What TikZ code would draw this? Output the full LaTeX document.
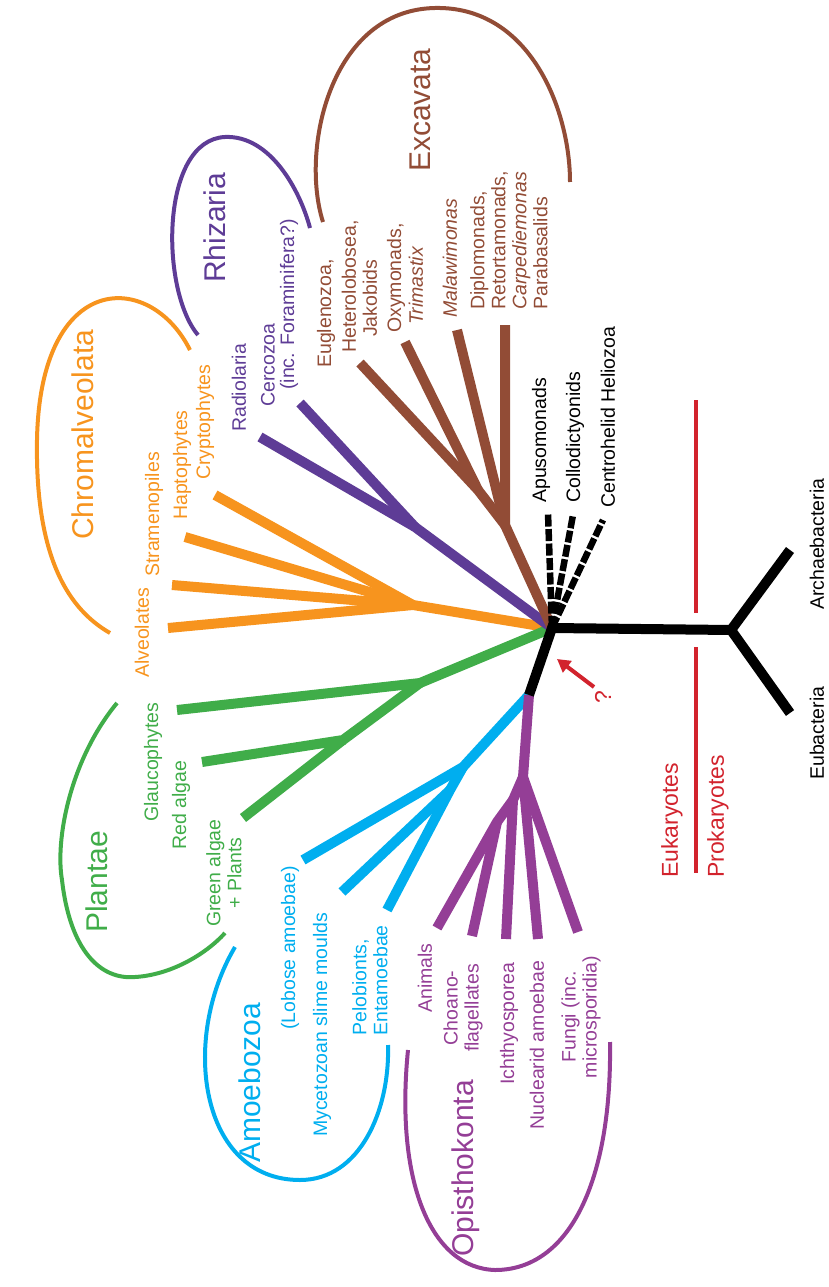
\documentclass[tikz,border=0pt]{standalone}
\usepackage{fontspec}
\setmainfont{Liberation Sans}
\usetikzlibrary{arrows.meta}
\definecolor{exbrown}{RGB}{146,76,54}
\definecolor{rhpurple}{RGB}{94,60,150}
\definecolor{chorange}{RGB}{247,148,30}
\definecolor{plgreen}{RGB}{64,173,73}
\definecolor{amcyan}{RGB}{0,174,239}
\definecolor{oppurple}{RGB}{148,62,150}
\definecolor{divred}{RGB}{210,35,45}
\tikzset{
	branch/.style={line width=10pt},
	clade/.style={line width=4pt},
	leaf/.style={rotate=90, anchor=west, inner sep=0pt, font=\fontsize{19.5}{21}\selectfont},
	group/.style={rotate=90, anchor=west, inner sep=0pt, font=\fontsize{30}{32}\selectfont},
}

\begin{document}
\begin{tikzpicture}[x=1pt, y=-1pt]
		%%%%% START %%%%%
		\useasboundingbox (0,0) rectangle (829,1287);
		
		\coordinate (root) at (552,628);
		\coordinate (low) at (529,695);
		
		% chromalveolata
		\coordinate (ch0) at (413,605);
		\coordinate (alv) at (168,628);
		\coordinate (str) at (172,585);
		\coordinate (hap) at (185,537);
		\coordinate (cry) at (215,495);
		\draw[branch, chorange] (root) -- (ch0) -- (alv);
		\draw[branch, chorange] (ch0) -- (str);
		\draw[branch, chorange] (ch0) -- (hap);
		\draw[branch, chorange] (ch0) -- (cry);
		
		% plantae
		\coordinate (pl0) at (420,683);
		\coordinate (pl1) at (343,740);
		\coordinate (gla) at (177,710);
		\coordinate (red) at (202,762);
		\coordinate (grn) at (243,818);
		\draw[branch, plgreen] (root) -- (pl0) -- (gla);
		\draw[branch, plgreen] (pl0) -- (pl1) -- (red);
		\draw[branch, plgreen] (pl1) -- (grn);
		
		% rhizaria
		\coordinate (rh0) at (415,527);
		\coordinate (rad) at (260,437);
		\coordinate (cer) at (300,403);
		\draw[branch, rhpurple] (root) -- (rh0) -- (rad);
		\draw[branch, rhpurple] (rh0) -- (cer);
		
		% excavata
		\coordinate (ex0) at (505,525);
		\coordinate (ex1) at (478,490);
		\coordinate (eug) at (360,363);
		\coordinate (oxy) at (405,342);
		\coordinate (mal) at (457,330);
		\coordinate (dip) at (505,325);
		\draw[branch, exbrown] (root) -- (ex0) -- (dip);
		\draw[branch, exbrown] (ex0) -- (mal);
		\draw[branch, exbrown] (ex0) -- (ex1) -- (eug);
		\draw[branch, exbrown] (ex1) -- (oxy);
		
		% amoebozoa
		\coordinate (am0) at (463,767);
		\coordinate (am1) at (450,790);
		\coordinate (lob) at (303,860);
		\coordinate (myc) at (342,892);
		\coordinate (pel) at (387,910);
		\draw[branch, amcyan] (low) -- (am0) -- (lob);
		\draw[branch, amcyan] (am0) -- (am1) -- (pel);
		\draw[branch, amcyan] (am1) -- (myc);
		
		% opisthokonta
		\coordinate (op0) at (523,777);
		\coordinate (op1) at (513,800);
		\coordinate (op2) at (497,822);
		\coordinate (ani) at (437,928);
		\coordinate (cho) at (472,936);
		\coordinate (ich) at (506,939);
		\coordinate (nuc) at (538,939);
		\coordinate (fun) at (578,932);
		\draw[branch, oppurple] (low) -- (op0) -- (fun);
		\draw[branch, oppurple] (op0) -- (nuc);
		\draw[branch, oppurple] (op0) -- (op1) -- (ich);
		\draw[branch, oppurple] (op1) -- (op2) -- (ani);
		\draw[branch, oppurple] (op2) -- (cho);
		
		% unplaced lineages and prokaryotes
		\coordinate (apu) at (548,513);
		\coordinate (col) at (573,515);
		\coordinate (cen) at (603,520);
		\draw[line width=6.5pt, dash pattern=on 12pt off 2.5pt] (root) -- (apu);
		\draw[line width=6.5pt, dash pattern=on 12pt off 2.5pt] (root) -- (col);
		\draw[line width=6.5pt, dash pattern=on 12pt off 2.5pt] (root) -- (cen);
		\coordinate (prok) at (731,630);
		\coordinate (arch) at (790,550);
		\coordinate (eubac) at (790,713);
		\draw[branch, line join=miter] (low) -- (root) -- (prok) -- (arch);
		\draw[branch] (prok) -- (eubac);
		
		% clade outlines
		\draw[clade, exbrown] (323,222) .. controls (300,150) and (330,10) .. (435,8) .. controls (530,6) and (570,110) .. (570,182);
		\draw[clade, rhpurple] (198,335) .. controls (160,290) and (160,140) .. (225,137) .. controls (270,135) and (300,190) .. (310,228);
		\draw[clade, chorange] (190,350) .. controls (150,270) and (40,270) .. (37,440) .. controls (35,560) and (70,610) .. (110,633);
		\draw[clade, plgreen] (117,703) .. controls (70,760) and (55,840) .. (62,880) .. controls (70,950) and (100,980) .. (135,977) .. controls (170,975) and (205,955) .. (225,933);
		\draw[clade, amcyan] (235,947) .. controls (180,1040) and (200,1180) .. (300,1180) .. controls (360,1180) and (390,1110) .. (388,1045);
		\draw[clade, oppurple] (408,1050) .. controls (395,1180) and (430,1268) .. (495,1270) .. controls (570,1270) and (612,1180) .. (610,1042);
		
		% eukaryote / prokaryote divide
		\draw[line width=3.5pt, divred] (696,400) -- (696,613);
		\draw[line width=3.5pt, divred] (696,647) -- (696,873);
		\coordinate (qtail) at (594,687);
		\coordinate (qtip) at (557,659);
		\draw[line width=4pt, divred, -{Triangle[length=13pt,width=14pt]}] (qtail) -- (qtip);
		\node[rotate=90, inner sep=0pt, divred, font=\fontsize{23}{25}\selectfont] (qmark) at (603,697) {?};
		\node[leaf, divred, font=\fontsize{23}{25}\selectfont] (euk) at (672,878) {Eukaryotes};
		\node[leaf, divred, font=\fontsize{23}{25}\selectfont] (pro) at (718,878) {Prokaryotes};
		
		% labels
		\node[leaf] (apuL) at (541,503) {Apusomonads};
		\node[leaf] (colL) at (575,503) {Collodictyonids};
		\node[leaf] (cenL) at (608,508) {Centrohelid Heliozoa};
		\node[leaf] (archL) at (817,610) {Archaebacteria};
		\node[leaf] (eubL) at (817,780) {Eubacteria};
		
		\node[group, exbrown] (excL) at (420,172) {Excavata};
		\node[leaf, exbrown] (eugL) at (326,368) {Euglenozoa,};
		\node[leaf, exbrown] (hetL) at (350,353) {Heterolobosea,};
		\node[leaf, exbrown] (jakL) at (370,337) {Jakobids};
		\node[leaf, exbrown] (oxyL) at (396,333) {Oxymonads,};
		\node[leaf, exbrown] (triL) at (416,325) {\itshape Trimastix};
		\node[leaf, exbrown] (malL) at (450,318) {\itshape Malawimonas};
		\node[leaf, exbrown, anchor=north west, align=left] (dipL) at (470,310) {Diplomonads,\\Retortamonads,\\\itshape Carpediemonas\\Parabasalids};
		
		\node[group, rhpurple] (rhiL) at (215,283) {Rhizaria};
		\node[leaf, rhpurple] (radL) at (239,432) {Radiolaria};
		\node[leaf, rhpurple] (cerL) at (268,407) {Cercozoa};
		\node[leaf, rhpurple] (forL) at (289,390) {(inc. Foraminifera?)};
		
		\node[group, chorange] (chrL) at (83,540) {Chromalveolata};
		\node[leaf, chorange] (cryL) at (205,480) {Cryptophytes};
		\node[leaf, chorange] (hapL) at (182,520) {Haptophytes};
		\node[leaf, chorange] (strL) at (154,577) {Stramenopiles};
		\node[leaf, chorange] (alvL) at (142,678) {Alveolates};
		
		\node[group, plgreen] (plaL) at (97,933) {Plantae};
		\node[leaf, plgreen] (glaL) at (153,822) {Glaucophytes};
		\node[leaf, plgreen] (redL) at (181,850) {Red algae};
		\node[leaf, plgreen, anchor=center, align=center] (grnL) at (224,873) {Green algae\\+ Plants};
		
		\node[group, amcyan] (amoL) at (250,1163) {Amoebozoa};
		\node[leaf, amcyan] (lobL) at (290,1030) {(Lobose amoebae)};
		\node[leaf, amcyan] (mycL) at (322,1137) {Mycetozoan slime moulds};
		\node[leaf, amcyan, anchor=north west, align=left] (pelL) at (352,1036) {Pelobionts,\\Entamoebae};
		
		\node[group, oppurple] (opiL) at (466,1257) {Opisthokonta};
		\node[leaf, oppurple] (aniL) at (425,1013) {Animals};
		\node[leaf, oppurple, anchor=center, align=center] (choL) at (463,1008) {Choano-\\flagellates};
		\node[leaf, oppurple] (ichL) at (509,1085) {Ichthyosporea};
		\node[leaf, oppurple] (nucL) at (537,1130) {Nuclearid amoebae};
		\node[leaf, oppurple, anchor=center, align=center] (funL) at (581,1017) {Fungi (inc.\\microsporidia)};
		%%%%% END %%%%%
\end{tikzpicture}
\end{document}
